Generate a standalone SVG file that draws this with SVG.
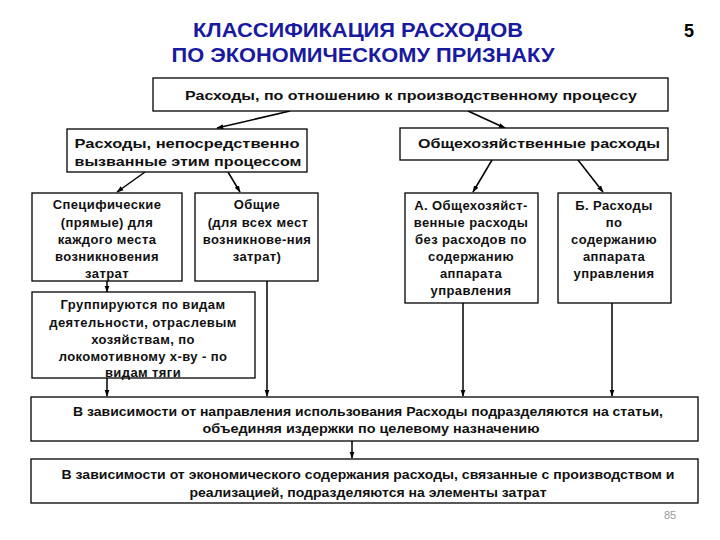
<svg xmlns="http://www.w3.org/2000/svg" width="720" height="540" viewBox="0 0 720 540">
<defs>
<marker id="ah" viewBox="0 0 10 10" refX="9" refY="5" markerWidth="7" markerHeight="7" orient="auto" markerUnits="userSpaceOnUse">
<path d="M0,1.5 L10,5 L0,8.5 z" fill="#000"/>
</marker>
<style>
.box{fill:#fff;stroke:#000;stroke-width:1.3}
.t{font-family:"Liberation Sans",Arial,sans-serif;font-weight:bold;font-size:13px;fill:#111;text-anchor:middle;letter-spacing:0.4px}
.n{font-family:"Liberation Sans",Arial,sans-serif;font-weight:bold;font-size:13px;fill:#111;text-anchor:middle}
.c{stroke:#000;stroke-width:1.5;fill:none;marker-end:url(#ah)}
.title{font-family:"Liberation Sans",Arial,sans-serif;font-weight:bold;font-size:21px;fill:#1a1a9e;text-anchor:middle}
</style>
</defs>
<rect width="720" height="540" fill="#fff"/>
<g id="title">
<text class="title" x="358" y="37" textLength="330" lengthAdjust="spacingAndGlyphs">КЛАССИФИКАЦИЯ РАСХОДОВ</text>
<text class="title" x="363" y="62" textLength="383" lengthAdjust="spacingAndGlyphs">ПО ЭКОНОМИЧЕСКОМУ ПРИЗНАКУ</text>
<text x="689" y="37" style="font-family:'Liberation Sans',Arial,sans-serif;font-weight:bold;font-size:18px;text-anchor:middle">5</text>
</g>
<g id="connectors">
<line class="c" x1="290" y1="111" x2="217" y2="128"/>
<line class="c" x1="468" y1="111" x2="505" y2="128"/>
<line class="c" x1="145" y1="172" x2="117" y2="192"/>
<line class="c" x1="228" y1="172" x2="240" y2="192"/>
<line class="c" x1="492" y1="160" x2="473" y2="192"/>
<line class="c" x1="578" y1="160" x2="603" y2="192"/>
<line class="c" x1="107" y1="281" x2="107" y2="292"/>
<line class="c" x1="267" y1="281" x2="267" y2="396"/>
<line class="c" x1="107" y1="378" x2="107" y2="396"/>
<line class="c" x1="463" y1="303" x2="463" y2="396"/>
<line class="c" x1="612" y1="303" x2="612" y2="396"/>
<line class="c" x1="352" y1="441" x2="352" y2="458"/>
</g>
<g id="n-top">
<rect class="box" x="153" y="78" width="515" height="33"/>
<text class="n" x="411" y="100" textLength="452" lengthAdjust="spacingAndGlyphs">Расходы, по отношению к производственному процессу</text>
</g>
<g id="n-direct">
<rect class="box" x="67" y="129" width="240" height="43"/>
<text class="n" x="187" y="148" textLength="225" lengthAdjust="spacingAndGlyphs">Расходы, непосредственно</text>
<text class="n" x="188" y="166" textLength="227" lengthAdjust="spacingAndGlyphs">вызванные этим процессом</text>
</g>
<g id="n-general">
<rect class="box" x="400" y="128" width="268" height="32"/>
<text class="n" x="539" y="148" textLength="242" lengthAdjust="spacingAndGlyphs">Общехозяйственные расходы</text>
</g>
<g id="n-specific">
<rect class="box" x="32" y="193" width="150" height="88"/>
<text class="t" x="107" y="209">Специфические</text>
<text class="t" x="107" y="227">(прямые) для</text>
<text class="t" x="107" y="244">каждого места</text>
<text class="t" x="107" y="261">возникновения</text>
<text class="t" x="107" y="278">затрат</text>
</g>
<g id="n-common">
<rect class="box" x="195" y="193" width="123" height="88"/>
<text class="t" x="257" y="209">Общие</text>
<text class="t" x="258" y="227">(для всех мест</text>
<text class="t" x="257" y="244">возникнове-ния</text>
<text class="t" x="257" y="261">затрат)</text>
</g>
<g id="n-group">
<rect class="box" x="32" y="292" width="223" height="86"/>
<text class="t" x="143" y="309">Группируются по видам</text>
<text class="t" x="143" y="327">деятельности, отраслевым</text>
<text class="t" x="143" y="344">хозяйствам, по</text>
<text class="t" x="143" y="361">локомотивному х-ву -  по</text>
<text class="t" x="143" y="377">видам тяги</text>
</g>
<g id="n-a">
<rect class="box" x="405" y="193" width="133" height="110"/>
<text class="t" x="471" y="210">А. Общехозяйст-</text>
<text class="t" x="471" y="227">венные расходы</text>
<text class="t" x="471" y="244">без расходов по</text>
<text class="t" x="471" y="261">содержанию</text>
<text class="t" x="471" y="278">аппарата</text>
<text class="t" x="471" y="295">управления</text>
</g>
<g id="n-b">
<rect class="box" x="558" y="193" width="113" height="110"/>
<text class="t" x="614" y="210">Б. Расходы</text>
<text class="t" x="614" y="227">по</text>
<text class="t" x="614" y="244">содержанию</text>
<text class="t" x="614" y="261">аппарата</text>
<text class="t" x="614" y="278">управления</text>
</g>
<g id="n-articles">
<rect class="box" x="31" y="397" width="667" height="44"/>
<text class="n" x="368" y="416" textLength="590" lengthAdjust="spacingAndGlyphs">В зависимости от направления использования Расходы подразделяются на статьи,</text>
<text class="n" x="371" y="433" textLength="337" lengthAdjust="spacingAndGlyphs">объединяя  издержки по целевому назначению</text>
</g>
<g id="n-elements">
<rect class="box" x="31" y="459" width="667" height="44"/>
<text class="n" x="368" y="479" textLength="613" lengthAdjust="spacingAndGlyphs">В зависимости от экономического содержания расходы, связанные с производством и</text>
<text class="n" x="368" y="497" textLength="357" lengthAdjust="spacingAndGlyphs">реализацией, подразделяются на элементы затрат</text>
</g>
<text x="670" y="519" style="font-family:'Liberation Sans',Arial,sans-serif;font-size:11px;fill:#999;text-anchor:middle">85</text>
</svg>
